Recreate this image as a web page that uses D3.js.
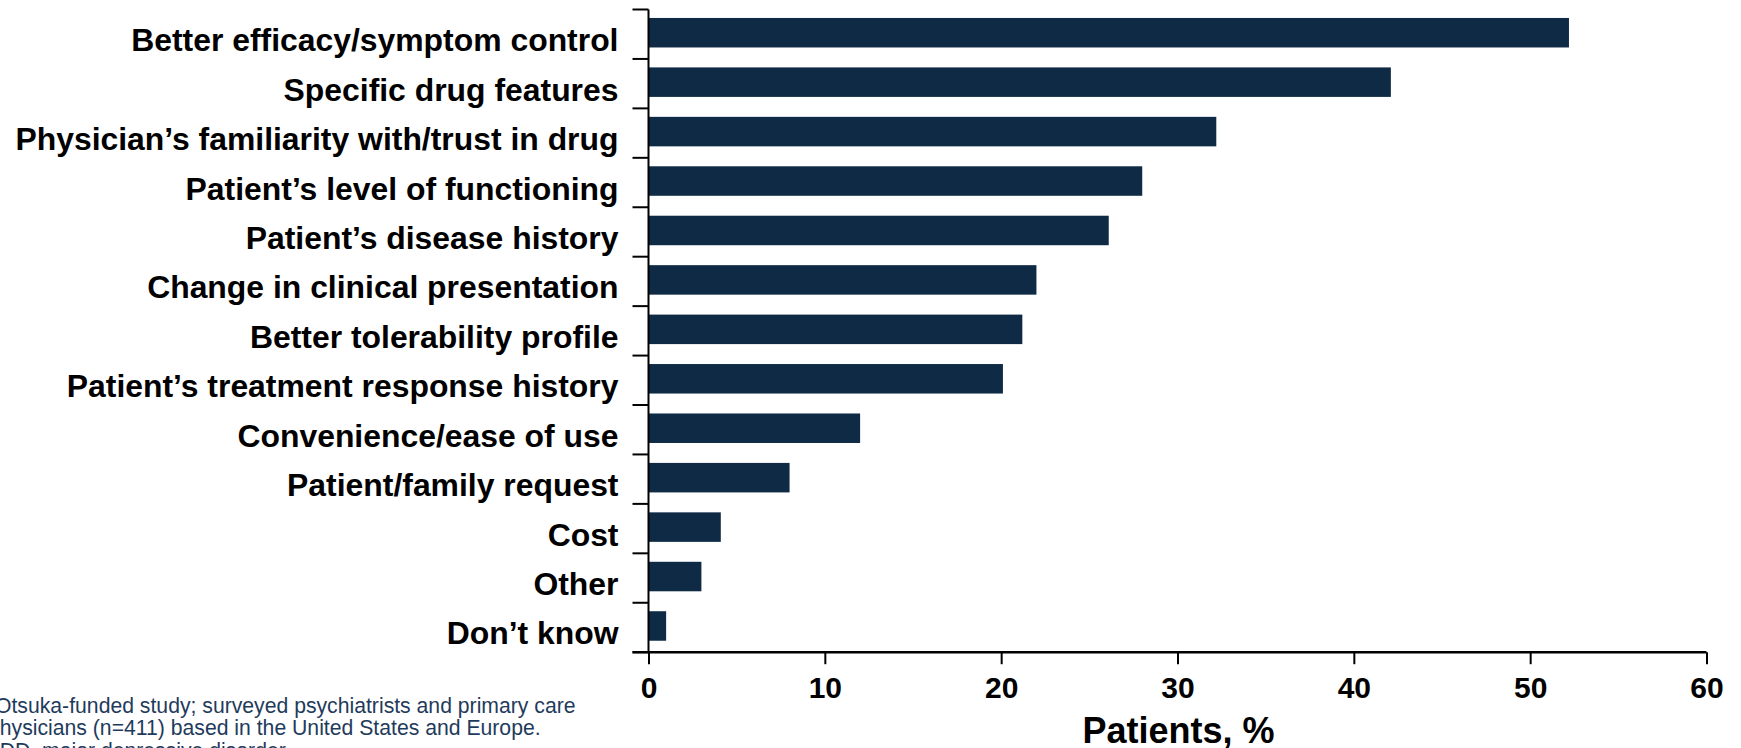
<!DOCTYPE html>
<meta charset="utf-8">
<title>Reasons for switching</title>
<style>
body { margin: 0; background: #fff; overflow: hidden; }
text { font-family: "Liberation Sans", Arial, sans-serif; }
</style>
<body>
<div id="my_dataviz"></div>
<script src="https://d3js.org/d3.v7.min.js"></script>
<script>

// categories, top to bottom
var reasons = [
  "Better efficacy/symptom control",
  "Specific drug features",
  "Physician\u2019s familiarity with/trust in drug",
  "Patient\u2019s level of functioning",
  "Patient\u2019s disease history",
  "Change in clinical presentation",
  "Better tolerability profile",
  "Patient\u2019s treatment response history",
  "Convenience/ease of use",
  "Patient/family request",
  "Cost",
  "Other",
  "Don\u2019t know"
];

// patients, %
var percents = [52.2, 42.1, 32.2, 28.0, 26.1, 22.0, 21.2, 20.1, 12.0, 8.0, 4.1, 3.0, 1.0];

var xTicks = [0, 10, 20, 30, 40, 50, 60];
var xTitle = "Patients, %";

var footnotes = [
  {x: -5, text: "Otsuka-funded study; surveyed psychiatrists and primary care"},
  {x: -12, text: "physicians (n=411) based in the United States and Europe."},
  {x: -18, text: "MDD, major depressive disorder."}
];

var W = 1741, H = 748;
var margin = {top: 9.5, left: 648.5},
    width = 1058,
    height = 642.7;

var svg = d3.select("#my_dataviz")
  .append("svg")
    .attr("width", W)
    .attr("height", H);

var g = svg.append("g")
    .attr("transform", "translate(" + margin.left + "," + margin.top + ")");

var x = d3.scaleLinear()
  .domain([0, 60])
  .range([0, width]);

var y = d3.scaleBand()
  .domain(reasons)
  .range([0, height])
  .padding(0);

var barH = 29.5;

// bars
g.selectAll("rect.bar")
  .data(reasons)
  .enter()
  .append("rect")
    .attr("class", "bar")
    .attr("x", x(0))
    .attr("y", function(d) { return y(d) + (y.step() - barH) / 2 - 1.5; })
    .attr("width", function(d, i) { return x(percents[i]) - x(0); })
    .attr("height", barH)
    .style("fill", "#0e2a45");

// category labels
g.selectAll("text.cat")
  .data(reasons)
  .enter()
  .append("text")
    .attr("class", "cat")
    .attr("x", -30)
    .attr("y", function(d) { return y(d) + y.step() / 2 + 17; })
    .attr("text-anchor", "end")
    .style("font-size", "31.9px")
    .style("font-weight", "bold")
    .style("fill", "#000")
    .text(function(d) { return d; });

// y axis: line + ticks between categories
g.append("line")
  .attr("x1", 0).attr("x2", 0)
  .attr("y1", 0).attr("y2", height)
  .attr("stroke", "#000")
  .attr("stroke-width", 2);

g.selectAll("line.ytick")
  .data(d3.range(reasons.length + 1))
  .enter()
  .append("line")
    .attr("class", "ytick")
    .attr("x1", -16).attr("x2", 0)
    .attr("y1", function(i) { return i * y.step(); })
    .attr("y2", function(i) { return i * y.step(); })
    .attr("stroke", "#000")
    .attr("stroke-width", 2);

// x axis
var xAxis = g.append("g")
  .attr("transform", "translate(0," + height + ")")
  .call(d3.axisBottom(x).tickValues(xTicks).tickSize(12).tickPadding(13).tickSizeOuter(0));

xAxis.select(".domain").remove();
xAxis.selectAll(".tick line").attr("stroke", "#000").attr("stroke-width", 2);
xAxis.selectAll(".tick text")
  .style("font-size", "30px")
  .style("font-weight", "bold")
  .style("font-family", "'Liberation Sans', Arial, sans-serif")
  .attr("fill", "#000");

xAxis.append("line")
  .attr("x1", -16).attr("x2", width)
  .attr("y1", 0).attr("y2", 0)
  .attr("stroke", "#000")
  .attr("stroke-width", 2.5);

// x axis title
g.append("text")
  .attr("x", width / 2 + 1)
  .attr("y", height + 91)
  .attr("text-anchor", "middle")
  .style("font-size", "36px")
  .style("font-weight", "bold")
  .style("fill", "#000")
  .text(xTitle);

// footnote
svg.selectAll("text.note")
  .data(footnotes)
  .enter()
  .append("text")
    .attr("class", "note")
    .attr("x", function(d) { return d.x; })
    .attr("y", function(d, i) { return 712.7 + i * 22.5; })
    .style("font-size", "21.2px")
    .style("fill", "#1f3b5c")
    .text(function(d) { return d.text; });

</script>
</body>
